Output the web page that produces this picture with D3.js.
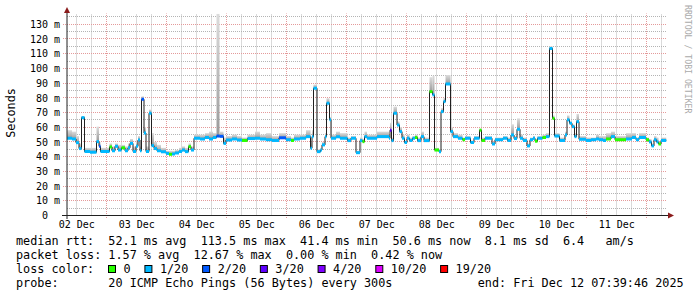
<!DOCTYPE html>
<html>
<head>
<meta charset="utf-8">
<script src="https://cdn.jsdelivr.net/npm/d3@7"></script>
<style>
  html, body { margin: 0; padding: 0; background: #fff; }
  svg { display: block; }
  text { white-space: pre; }
</style>
</head>
<body>
<div id="chart"></div>
<script>
// SmokePing 10 天延迟图 — median + smoke + 丢包颜色

// 阶梯起点：距 12月2日 00:00 的小时数
const hours = [
  8.3, 10.3, 11.9, 13.1, 14.1, 15.3, 17.5, 20.1, 21.1, 21.7,
  25.3, 26.3, 27.5, 28.7, 30.1, 31.5, 32.7, 33.5, 34.7, 35.9,
  36.7, 37.5, 38.1, 39.1, 39.9, 41.1, 42.1, 43.1, 44.3, 45.9,
  47.9, 49.1, 50.3, 51.5, 53.1, 54.3, 55.5, 56.9, 57.9, 59.1,
  61.5, 63.5, 65.1, 66.7, 68.1, 69.3, 70.9, 71.9, 74.3, 76.3,
  78.3, 80.5, 83.5, 85.5, 87.9, 90.3, 93.1, 95.9, 97.9, 99.1,
  101.5, 103.9, 105.7, 106.3, 106.9, 108.3, 109.7, 110.3, 111.5, 112.1,
  113.3, 113.9, 115.9, 117.5, 120.5, 121.9, 123.9, 125.5, 126.5, 127.3,
  128.3, 132.3, 137.1, 137.5, 138.1, 138.9, 140.3, 141.3, 142.3, 143.3,
  144.3, 145.3, 146.5, 147.5, 148.5, 149.9, 151.1, 153.3, 154.5, 155.3,
  157.1, 157.9, 158.9, 159.7, 161.7, 162.7, 164.7, 166.5, 167.5, 169.7,
  171.1, 173.3, 174.1, 175.5, 178.3, 179.5, 182.7, 184.5, 185.9, 187.1,
  188.3, 189.5, 190.7, 192.3, 193.5, 194.7, 195.5, 196.5, 198.5, 199.9,
  201.3, 202.5, 203.3, 205.3, 207.5, 208.3, 209.3, 210.3, 211.3, 212.1,
  213.1, 215.9, 217.9, 219.9, 221.1, 222.7, 223.9, 225.9, 227.5, 231.9,
  234.3, 235.9, 237.1, 239.9, 241.1, 242.1, 243.1, 244.1, 244.9, 245.9
];
const endHour = 248;

// median rtt (ms)
const median = [
  52.5, 52, 49.5, 45.5, 66.5, 43.5, 43, 50.2, 47, 43.5,
  46.6, 44, 47, 44.5, 46, 44, 46, 49, 43.5, 47,
  51.3, 44, 79, 56, 43.5, 69.5, 47.5, 45.5, 44, 43.3,
  42.2, 41.6, 41.8, 42.5, 43.5, 44.5, 43.4, 46.8, 44.5, 52.5,
  52, 53, 52, 53, 54, 53.8, 49, 51.3, 52, 51.3,
  51, 52.3, 52.5, 52, 51.5, 51, 52.8, 51.5, 51, 52,
  52.5, 53.6, 45.7, 53.6, 86.5, 43.4, 44.5, 48, 53.6, 76.3,
  65, 52.5, 53.5, 52.5, 50.9, 52.5, 42.7, 50.9, 50.2, 53.6,
  52.5, 53.6, 52.5, 58, 50.9, 69.5, 61.5, 57, 52.5, 49.6,
  52.5, 51, 52.5, 53, 50.9, 53.6, 50.9, 84.2, 82, 44.5,
  43.4, 70.6, 77.4, 89.4, 57, 53.6, 52.5, 51.5, 52.5, 49.6,
  52.5, 58, 51, 52.5, 48.6, 51.5, 52.5, 51, 54.7, 52.3,
  58.6, 52.5, 51, 47.3, 51.5, 52.5, 50.5, 52.5, 53, 53.6,
  113.5, 66, 54, 51, 54.7, 65, 62.7, 60.4, 53.6, 63.8,
  51.8, 51, 51.5, 52, 51.5, 51, 52, 53.6, 51.5, 52,
  53, 51.5, 53, 51.5, 50, 47.3, 51.5, 50, 48.6, 51
];

// 丢包等级（lossColors 的下标）
const lossLevel = [
  1, 1, 1, 1, 1, 1, 1, 1, 2, 1,
  0, 1, 1, 1, 0, 1, 1, 1, 1, 1,
  1, 1, 2, 1, 1, 1, 1, 1, 1, 1,
  1, 0, 1, 1, 1, 1, 1, 0, 1, 1,
  1, 1, 1, 1, 2, 2, 1, 1, 1, 1,
  0, 1, 1, 1, 1, 1, 2, 1, 0, 1,
  1, 1, 1, 1, 1, 1, 1, 1, 1, 1,
  1, 1, 1, 1, 1, 1, 1, 1, 0, 1,
  1, 1, 1, 3, 1, 1, 1, 1, 1, 1,
  1, 1, 1, 0, 1, 1, 1, 0, 1, 0,
  1, 1, 1, 1, 1, 1, 1, 0, 1, 1,
  1, 0, 0, 1, 1, 1, 1, 1, 1, 1,
  1, 1, 1, 1, 1, 1, 0, 1, 0, 1,
  1, 0, 1, 1, 1, 1, 1, 1, 1, 1,
  1, 1, 1, 1, 1, 1, 0, 1, 0, 1,
  1, 1, 1, 0, 1, 1, 1, 1, 0, 1
];

// smoke 上沿 (ms)
const smokeTop = [
  58, 57, 54, 49, 67.5, 46, 46, 60.4, 50, 46,
  49, 47, 49, 48, 48, 47, 49, 52, 47, 50,
  54, 47, 81, 60, 47, 72, 56, 50, 48, 46,
  44, 44, 44, 44.5, 46, 47, 46, 49, 47, 55,
  55, 56, 57, 56, 137, 57, 53, 54, 55, 54,
  53, 55, 57, 55, 56, 54, 56, 54, 53, 55,
  55, 58, 50, 58, 89, 45, 46, 50, 56, 79.7,
  67, 55, 57, 56, 53, 54, 44, 53, 52, 57,
  55, 57, 55, 63, 53, 74, 64, 60, 55, 51,
  55, 53, 54, 55, 53, 57, 53, 94, 95, 46,
  45, 73, 80, 95.5, 60, 56, 55, 53, 54, 51,
  54, 59, 53, 54, 50, 53, 54, 53, 62, 54,
  66, 55, 53, 49, 53, 54, 52, 54, 55, 56,
  115, 68, 56, 53, 57, 68, 64, 62, 56, 69,
  54, 53, 53, 55, 54, 54, 56, 57, 54, 56,
  56, 53, 56, 53, 52, 49, 54, 53, 50, 53
];

const yTicks = [0, 10, 20, 30, 40, 50, 60, 70, 80, 90, 100, 110, 120, 130];
const dayLabels = ['02 Dec', '03 Dec', '04 Dec', '05 Dec', '06 Dec',
                   '07 Dec', '08 Dec', '09 Dec', '10 Dec', '11 Dec'];

const lossNames  = ['0', '1/20', '2/20', '3/20', '4/20', '10/20', '19/20'];
const lossColors = ['#26ff00', '#00b8ff', '#0059ff', '#5e00ff', '#7e00ff', '#dd00ff', '#ff0000'];

const rttStats  = ['52.1 ms avg', '113.5 ms max', '41.4 ms min', '50.6 ms now', '8.1 ms sd', '6.4   am/s'];
const lossStats = ['1.57 % avg', '12.67 % max', '0.00 % min', '0.42 % now'];
const probeText = '20 ICMP Echo Pings (56 Bytes) every 300s';
const endText   = 'end: Fri Dec 12 07:39:46 2025';

// ---- 画布 ----
const W = 697, H = 297;
const MONO = '"DejaVu Sans Mono", monospace';

const svg = d3.select('#chart').append('svg')
  .attr('width', W)
  .attr('height', H)
  .attr('viewBox', `0 0 ${W} ${H}`)
  .style('font-family', MONO);

svg.append('rect').attr('width', W).attr('height', H).attr('fill', '#fff');

const x = d3.scaleLinear().domain([8.3, 248.3]).range([67, 667]);
const y = d3.scaleLinear().domain([0, 137.3]).range([215.5, 13.5]);
const crisp = v => Math.floor(v) + 0.5;
const yTop = 13.5;

// ---- 网格 ----
const grid = svg.append('g').attr('class', 'grid');
const minorY = d3.range(5, 136, 5).filter(v => v % 10 !== 0);
const minorX = d3.range(12, endHour, 6).filter(h => h % 24 !== 0);
const majorX = d3.range(24, endHour, 24);

grid.selectAll('.hmin').data(minorY).join('line')
  .attr('x1', 67).attr('x2', 667)
  .attr('y1', d => crisp(y(d))).attr('y2', d => crisp(y(d)))
  .attr('stroke', '#b4b4b4').attr('stroke-dasharray', '1,1');

grid.selectAll('.vmin').data(minorX).join('line')
  .attr('x1', d => crisp(x(d))).attr('x2', d => crisp(x(d)))
  .attr('y1', 215.5).attr('y2', yTop)
  .attr('stroke', '#b4b4b4').attr('stroke-dasharray', '1,1');

grid.selectAll('.hmaj').data(yTicks.slice(1)).join('line')
  .attr('x1', 63).attr('x2', 667)
  .attr('y1', d => crisp(y(d))).attr('y2', d => crisp(y(d)))
  .attr('stroke', '#e49a9a').attr('stroke-dasharray', '1,1');

grid.selectAll('.vmaj').data(majorX).join('line')
  .attr('x1', d => crisp(x(d))).attr('x2', d => crisp(x(d)))
  .attr('y1', 218).attr('y2', yTop)
  .attr('stroke', '#e49a9a').attr('stroke-dasharray', '1,1');

// ---- smoke ----
const defs = svg.append('defs');
const grad = defs.append('linearGradient')
  .attr('id', 'smoke').attr('x1', 0).attr('y1', 0).attr('x2', 0).attr('y2', 1);
grad.append('stop').attr('offset', '0%').attr('stop-color', '#dcdcdc');
grad.append('stop').attr('offset', '100%').attr('stop-color', '#9a9a9a');

const pts = hours.map((h, i) => ({
  h0: h,
  h1: i < hours.length - 1 ? hours[i + 1] : endHour,
  med: median[i],
  top: smokeTop[i],
  loss: lossLevel[i]
}));

svg.append('g').selectAll('rect').data(pts).join('rect')
  .attr('x', d => x(d.h0))
  .attr('width', d => x(d.h1) - x(d.h0))
  .attr('y', d => y(d.top))
  .attr('height', d => Math.max(0, y(d.med) - y(d.top)))
  .attr('fill', 'url(#smoke)');

// ---- median 黑线（阶梯）----
const stepData = pts.map(d => [d.h0, d.med]).concat([[endHour, median[median.length - 1]]]);
svg.append('path')
  .datum(stepData)
  .attr('fill', 'none')
  .attr('stroke', '#202020')
  .attr('stroke-width', 1)
  .attr('d', d3.line().x(d => x(d[0])).y(d => y(d[1])).curve(d3.curveStepAfter));

// ---- 丢包颜色段 ----
svg.append('g').selectAll('line').data(pts).join('line')
  .attr('x1', d => x(d.h0))
  .attr('x2', d => x(d.h1))
  .attr('y1', d => y(d.med))
  .attr('y2', d => y(d.med))
  .attr('stroke', d => lossColors[d.loss])
  .attr('stroke-width', 3);

// ---- 坐标轴 ----
const yAxis = svg.append('g')
  .attr('transform', 'translate(67,0)')
  .call(d3.axisLeft(y).tickValues(yTicks).tickSize(0).tickPadding(7)
    .tickFormat(d => d === 0 ? '0' : d + ' m'));
yAxis.select('.domain').remove();
yAxis.attr('font-family', MONO).attr('font-size', 10);
yAxis.selectAll('text').attr('fill', '#000')
  .attr('dx', d => d === 0 ? -12 : 0);

const xAxis = svg.append('g')
  .attr('transform', 'translate(0,215.5)')
  .call(d3.axisBottom(x).tickValues(dayLabels.map((_, i) => 12 + 24 * i))
    .tickSize(0).tickPadding(5.4).tickFormat((d, i) => dayLabels[i]));
xAxis.select('.domain').remove();
xAxis.attr('font-family', MONO).attr('font-size', 10);
xAxis.selectAll('text').attr('fill', '#000');

// 轴线 + 箭头
svg.append('line').attr('x1', 67).attr('x2', 67).attr('y1', 219).attr('y2', 11)
  .attr('stroke', '#202020').attr('stroke-width', 1);
svg.append('line').attr('x1', 62).attr('x2', 670).attr('y1', 215.5).attr('y2', 215.5)
  .attr('stroke', '#202020').attr('stroke-width', 1);
svg.append('path').attr('d', 'M64,13L67,7L70,13Z').attr('fill', '#8b1c1c');
svg.append('path').attr('d', 'M668,212.5L674,215.5L668,218.5Z').attr('fill', '#8b1c1c');

// 纵轴标题
svg.append('text')
  .attr('transform', 'translate(15,113) rotate(-90)')
  .attr('text-anchor', 'middle')
  .attr('font-size', 11.8)
  .attr('fill', '#000')
  .text('Seconds');

// 右侧水印
svg.append('text')
  .attr('transform', 'translate(684.5,5) rotate(90)')
  .attr('font-size', 8.2)
  .attr('fill', '#aaaaaa')
  .text('RRDTOOL / TOBI OETIKER');

// ---- 图例 ----
const legend = svg.append('g').attr('font-size', 11.8).attr('fill', '#000');
const lines = [
  'median rtt:  ' + rttStats.join('  '),
  'packet loss: ' + lossStats.join('  '),
  'loss color:',
  'probe:       ' + probeText
];
legend.selectAll('text.row').data(lines).join('text')
  .attr('class', 'row')
  .attr('x', 16)
  .attr('y', (d, i) => 245.3 + i * 14)
  .text(d => d);

legend.append('text').attr('x', 477.7).attr('y', 287.3).text(endText);

let lx = 108.5;
lossNames.forEach((name, i) => {
  legend.append('rect')
    .attr('x', lx).attr('y', 265.5).attr('width', 7).attr('height', 7)
    .attr('fill', lossColors[i]).attr('stroke', '#000').attr('stroke-width', 1);
  const t = legend.append('text').attr('x', lx + 15).attr('y', 273.3).text(name);
  lx += 15 + t.node().getComputedTextLength() + 14.3;
});
</script>
</body>
</html>
